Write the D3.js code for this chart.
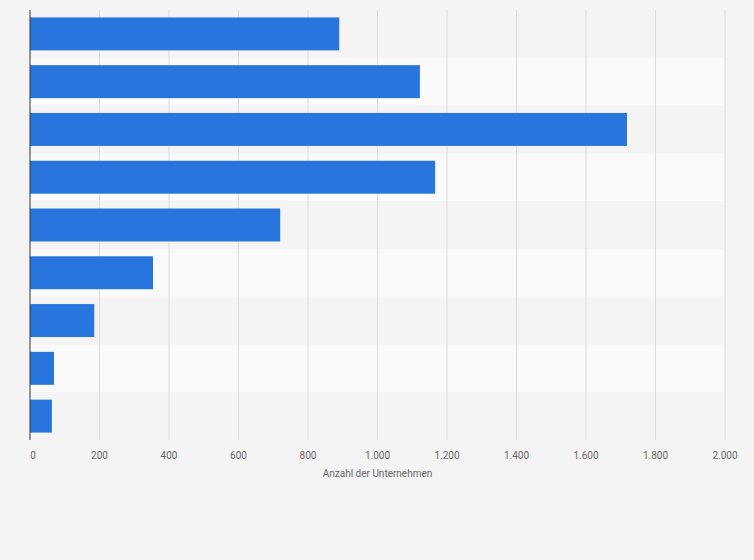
<!DOCTYPE html>
<html><head><meta charset="utf-8">
<script src="https://cdn.jsdelivr.net/npm/d3@7"></script>
<style>body{margin:0;background:#f4f4f4;font-family:Roboto,"Open Sans",sans-serif}</style>
</head><body><svg id="c" width="754" height="560"></svg>
<script>
const categories = ["A","B","C","D","E","F","G","H","I"];
const values = [890, 1122, 1718, 1166, 720, 354, 185, 69, 63];
const ticks = [0,200,400,600,800,1000,1200,1400,1600,1800,2000];
const axisTitle = "Anzahl der Unternehmen";

const svg = d3.select("#c");
const m = {l:30, r:29, t:10, b:120};
const W = 754, H = 560;
const x = d3.scaleLinear().domain([0,2000]).range([m.l, W-m.r]);
const y = d3.scaleBand().domain(categories).range([m.t, H-m.b]).paddingInner(0).paddingOuter(0);

svg.selectAll("rect.band").data(categories).join("rect")
  .attr("x", m.l).attr("width", W-m.r-m.l+0)
  .attr("y", d=>y(d)).attr("height", y.bandwidth())
  .attr("fill", (d,i)=> i%2 ? "#fafafa" : "#f4f4f4");

svg.selectAll("line.grid").data(ticks.slice(1)).join("line")
  .attr("x1", d=>x(d)).attr("x2", d=>x(d))
  .attr("y1", m.t).attr("y2", H-m.b)
  .attr("stroke", "#dcdcdc").attr("stroke-dasharray","1,0");

const bh = y.bandwidth()*0.69;
svg.selectAll("rect.bar").data(values).join("rect")
  .attr("x", x(0)).attr("width", d=>x(d)-x(0))
  .attr("y", (d,i)=> y(categories[i]) + (y.bandwidth()-bh)/2)
  .attr("height", bh).attr("fill", "#2876dd");

svg.append("line").attr("x1", x(0)).attr("x2", x(0)).attr("y1", m.t).attr("y2", H-m.b)
  .attr("stroke","#333").attr("stroke-width",1);

const fmt = d=> d3.format(",")(d).replace(/,/g,".");
svg.selectAll("text.tick").data(ticks).join("text")
  .attr("x", d=>x(d)+ (d===0?3:0)).attr("y", H-m.b+19)
  .attr("text-anchor","middle").attr("font-size",10).attr("fill","#666")
  .text(fmt);

svg.append("text").attr("x", (x(0)+x(2000))/2 - 0).attr("y", H-m.b+37)
  .attr("text-anchor","middle").attr("font-size",10).attr("fill","#666").text(axisTitle);
</script></body></html>
